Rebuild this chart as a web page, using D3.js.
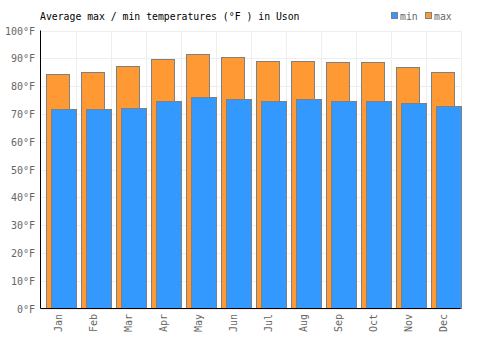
<!DOCTYPE html>
<html>
<head>
<meta charset="utf-8" />
<title>Uson temperatures</title>
<style>
  body { margin: 0; background: #fff; }
  text { font-family: "DejaVu Sans Mono", monospace; }
</style>
</head>
<body>
<svg id="svg" width="500" height="350"></svg>
<script src="https://d3js.org/d3.v7.min.js"></script>
<script>
var months = ["Jan","Feb","Mar","Apr","May","Jun","Jul","Aug","Sep","Oct","Nov","Dec"];
var maxTemp = [84.5, 85.2, 87.4, 89.9, 91.4, 90.3, 89.2, 89.2, 88.8, 88.5, 86.7, 84.9];
var minTemp = [71.9, 71.6, 72.3, 74.8, 75.9, 75.5, 74.8, 75.2, 74.8, 74.5, 74.1, 73.0];
var yTicks = [0, 10, 20, 30, 40, 50, 60, 70, 80, 90, 100];

var mLeft = 40.5, mRight = 460.5, mTop = 30.5, mBottom = 308.5;
var svg = d3.select("#svg");

var x = d3.scaleBand().domain(months).range([mLeft, mRight]);
var y = d3.scaleLinear().domain([0, 100]).range([mBottom, mTop]);

// grid
svg.append("g").selectAll("line")
  .data(yTicks)
  .enter().append("line")
  .attr("x1", mLeft).attr("x2", mRight)
  .attr("y1", d => Math.round(y(d)) + 0.5).attr("y2", d => Math.round(y(d)) + 0.5)
  .attr("stroke", "#eeeeee").attr("stroke-width", 1);

svg.append("g").selectAll("line")
  .data(months)
  .enter().append("line")
  .attr("x1", d => Math.round(x(d) + x.bandwidth()) + 0.5)
  .attr("x2", d => Math.round(x(d) + x.bandwidth()) + 0.5)
  .attr("y1", mTop).attr("y2", mBottom)
  .attr("stroke", "#eeeeee").attr("stroke-width", 1);

// max bars (behind)
svg.append("g").selectAll("rect")
  .data(months)
  .enter().append("rect")
  .attr("x", d => Math.round(x(d) + 5) + 0.5)
  .attr("width", 23)
  .attr("y", (d, i) => Math.round(y(maxTemp[i])) + 0.5)
  .attr("height", (d, i) => mBottom - Math.round(y(maxTemp[i])) - 0.5)
  .attr("fill", "#ff9933").attr("stroke", "#808080").attr("stroke-width", 1);

// min bars
svg.append("g").selectAll("rect")
  .data(months)
  .enter().append("rect")
  .attr("x", d => Math.round(x(d) + 10) + 0.5)
  .attr("width", 25)
  .attr("y", (d, i) => Math.round(y(minTemp[i])) + 0.5)
  .attr("height", (d, i) => mBottom - Math.round(y(minTemp[i])) - 0.5)
  .attr("fill", "#3399ff").attr("stroke", "#808080").attr("stroke-width", 1);

// axes
svg.append("line").attr("x1", mLeft).attr("x2", mLeft).attr("y1", mTop).attr("y2", mBottom)
  .attr("stroke", "#000").attr("stroke-width", 1);
svg.append("line").attr("x1", mLeft).attr("x2", mRight).attr("y1", mBottom).attr("y2", mBottom)
  .attr("stroke", "#000").attr("stroke-width", 1);

// y labels
svg.append("g").selectAll("text")
  .data(yTicks)
  .enter().append("text")
  .attr("x", 35)
  .attr("y", d => y(d) + 4)
  .attr("text-anchor", "end")
  .attr("font-size", 10)
  .attr("fill", "#666")
  .text(d => d + "°F");

// x labels
svg.append("g").selectAll("text")
  .data(months)
  .enter().append("text")
  .attr("transform", d => "translate(" + (x(d) + x.bandwidth() / 2 + 3.5) + "," + 314 + ") rotate(-90)")
  .attr("text-anchor", "end")
  .attr("font-size", 10)
  .attr("fill", "#666")
  .text(d => d);

// title
svg.append("text").attr("x", 40).attr("y", 20)
  .attr("font-size", 9.8).attr("fill", "#000")
  .text("Average max / min temperatures (°F ) in Uson");

// legend
var legend = [{name: "min", color: "#3399ff", x: 392}, {name: "max", color: "#ff9933", x: 426}];
var lg = svg.append("g").selectAll("g").data(legend).enter().append("g");
lg.append("rect").attr("x", d => d.x - 0.5).attr("y", 12.5).attr("width", 6).attr("height", 6)
  .attr("fill", d => d.color).attr("stroke", "#808080").attr("stroke-width", 1);
lg.append("text").attr("x", d => d.x + 8).attr("y", 20)
  .attr("font-size", 9.8).attr("fill", "#666").text(d => d.name);
</script>
</body>
</html>
